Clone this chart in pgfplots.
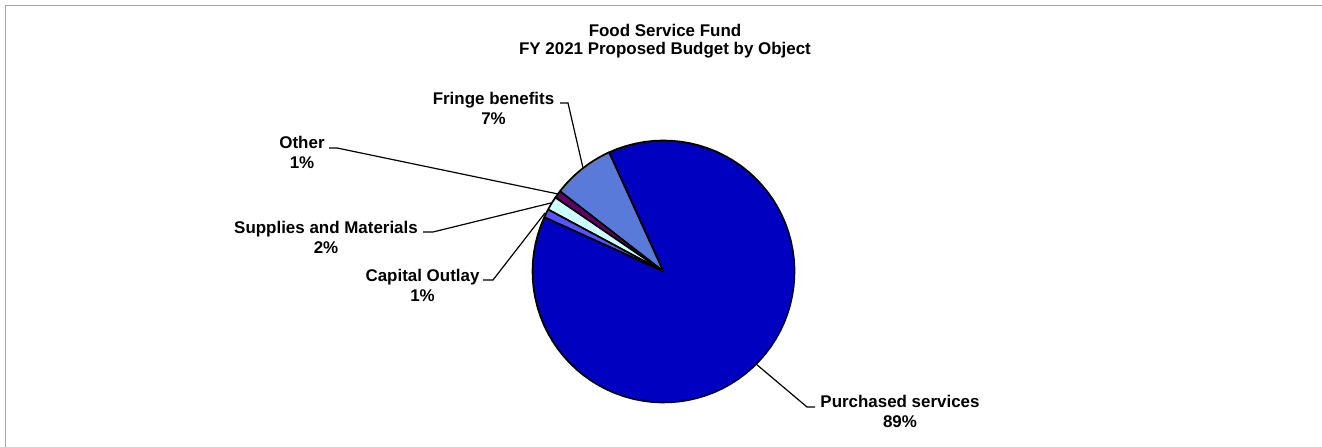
\documentclass[border=0pt]{standalone}
\usepackage{pgfplots}
\pgfplotsset{compat=1.18}
\usepackage{fontspec}
\setmainfont{Liberation Sans}
\definecolor{cPurch}{HTML}{0000C0}
\definecolor{cFringe}{HTML}{5A7ADA}
\definecolor{cOther}{HTML}{660066}
\definecolor{cSupp}{HTML}{CCFFFF}
\definecolor{cCap}{HTML}{5555FF}
\def\cx{663.5}
\def\cy{175.5}
\def\rr{131}
% slice: start angle, end angle, colour  (angles from shares: 7.7, 0.95, 1.7, 1.05, 88.6 %)
\newcommand\slice[3]{%
  \addplot[fill=#3, draw=black, line width=1.7bp, line join=round, domain=#1:#2, samples=80, variable=\t]
    ({\cx+\rr*cos(\t)},{\cy+\rr*sin(\t)}) -- (axis cs:\cx,\cy) -- cycle;}
\begin{document}
\begin{tikzpicture}[x=1bp,y=1bp]
\begin{axis}[
  at={(0,0)}, anchor=south west,
  width=1322bp, height=447bp, scale only axis,
  xmin=0, xmax=1322, ymin=0, ymax=447,
  hide axis, clip=false,
  font=\fontsize{17}{19}\selectfont\bfseries,
]
\slice{114.5}{142.22}{cFringe}
\slice{142.22}{145.64}{cOther}
\slice{145.64}{151.76}{cSupp}
\slice{151.76}{155.54}{cCap}
\slice{155.54}{474.5}{cPurch}

% frame (top and left only visible)
\draw[gray!70, line width=1bp] (axis cs:5.5,0) -- (axis cs:5.5,441.5) -- (axis cs:1322,441.5);

% title
\node[align=center, font=\fontsize{17}{18.5}\selectfont\bfseries] at (axis cs:665,406) {Food Service Fund\\FY 2021 Proposed Budget by Object};

% leaders
\draw[black, line width=1.2bp] (axis cs:560,344) -- (axis cs:568,344) -- (axis cs:583,279);
\draw[black, line width=1.2bp] (axis cs:329,299) -- (axis cs:337,299) -- (axis cs:558,253);
\draw[black, line width=1.2bp] (axis cs:423,215) -- (axis cs:433,215) -- (axis cs:551,244);
\draw[black, line width=1.2bp] (axis cs:483,167) -- (axis cs:493,167) -- (axis cs:545,234);
\draw[black, line width=1.2bp] (axis cs:815,40) -- (axis cs:807,40) -- (axis cs:756,83);

% labels
\node[align=center, font=\fontsize{17}{20}\selectfont\bfseries] at (axis cs:493.5,339) {Fringe benefits\\7\%};
\node[align=center, font=\fontsize{17}{20}\selectfont\bfseries] at (axis cs:302,294.5) {Other\\1\%};
\node[align=center, font=\fontsize{17}{20}\selectfont\bfseries] at (axis cs:326,210) {Supplies and Materials\\2\%};
\node[align=center, font=\fontsize{17}{20}\selectfont\bfseries] at (axis cs:422.5,162) {Capital Outlay\\1\%};
\node[align=center, font=\fontsize{17}{20}\selectfont\bfseries] at (axis cs:900,36) {Purchased services\\89\%};
\end{axis}
\pgfresetboundingbox
\path[use as bounding box] (0,0) rectangle (1322,447);
\end{tikzpicture}
\end{document}
